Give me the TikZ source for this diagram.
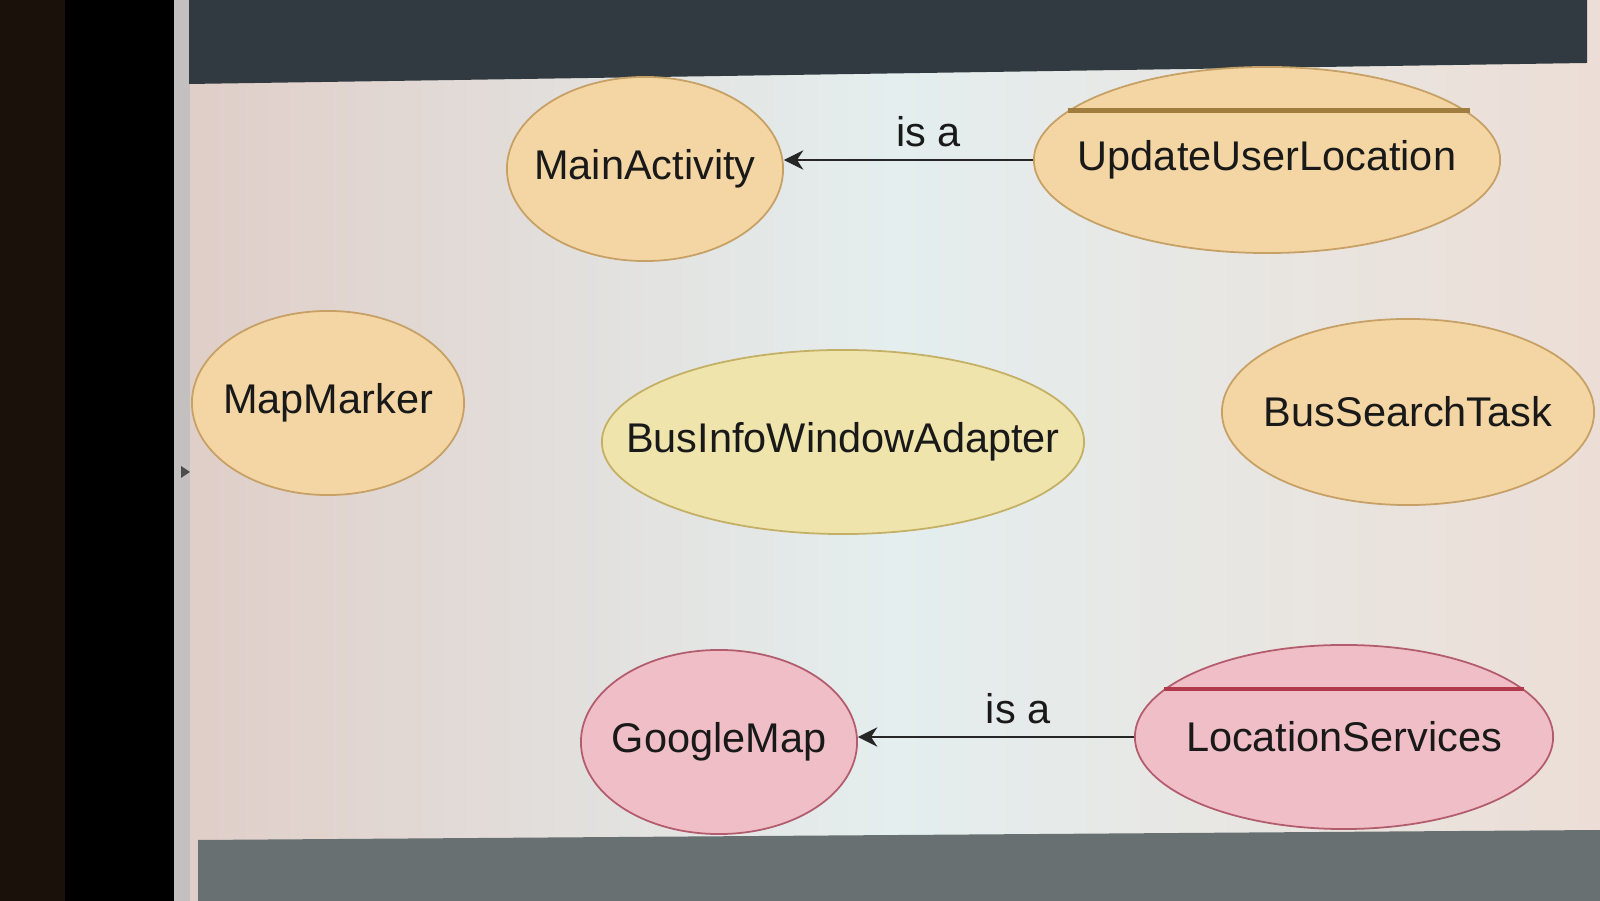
\documentclass[tikz,border=0pt]{standalone}
\usepackage{fontspec}
\setmainfont{Liberation Sans}
\usepackage{xcolor}
\usetikzlibrary{shapes.geometric,arrows.meta}
\definecolor{uclorange}{RGB}{244,214,164}
\definecolor{uclorangeline}{RGB}{198,160,100}
\definecolor{uclorangebar}{RGB}{160,124,62}
\definecolor{uclyellow}{RGB}{238,228,172}
\definecolor{uclyellowline}{RGB}{196,176,100}
\definecolor{uclpink}{RGB}{240,190,198}
\definecolor{uclpinkline}{RGB}{178,92,110}
\definecolor{uclpinkbar}{RGB}{176,58,74}
\definecolor{scrleft}{RGB}{224,206,200}
\definecolor{scrmid}{RGB}{228,238,238}
\definecolor{scrright}{RGB}{236,222,214}
\definecolor{bezeldark}{RGB}{26,18,10}
\definecolor{bezelgray}{RGB}{196,192,192}
\definecolor{titlebar}{RGB}{48,58,64}
\definecolor{footbar}{RGB}{104,112,114}
\newcommand{\clsname}[1]{\makebox[0pt]{#1}}

\begin{document}
\begin{tikzpicture}[x=0.01cm,y=-0.01cm,
  cls/.style={ellipse,line width=0.5pt,text=black!90,
    font=\fontsize{11.8}{14}\selectfont},
  orangecls/.style={cls,fill=uclorange,draw=uclorangeline},
  yellowcls/.style={cls,fill=uclyellow,draw=uclyellowline},
  pinkcls/.style={cls,fill=uclpink,draw=uclpinkline},
  isa/.style={-{Stealth[length=5.5pt,width=5.5pt]},line width=0.5pt,draw=black!85},
  isalabel/.style={font=\fontsize{11.8}{14}\selectfont,text=black!90,above,pos=0.42}]
  \useasboundingbox (0,0) rectangle (1600,901);
  % photo surroundings: bezel, screen, title bar, footer bar
  \fill[bezeldark] (0,0) rectangle (1600,901);
  \fill[black] (65,0) rectangle (176,901);
  \fill[bezelgray] (174,0) rectangle (190,901);
  \fill[left color=scrleft,right color=scrright,middle color=scrmid] (190,0) rectangle (1600,901);
  \fill[titlebar] (189,0) -- (1587,0) -- (1587,63) -- (189,84) -- cycle;
  \fill[footbar] (198,840) -- (1600,830) -- (1600,901) -- (198,901) -- cycle;
  \fill[black!70] (181,466) -- (190,472) -- (181,478) -- cycle;

  % classes
  \node[orangecls,minimum width=2.76cm,minimum height=1.84cm] (main) at (645,169) {\clsname{MainActivity}};
  \node[orangecls,minimum width=4.66cm,minimum height=1.86cm] (upd) at (1267,160) {\clsname{UpdateUserLocation}};
  \node[orangecls,minimum width=2.72cm,minimum height=1.84cm] (marker) at (328,403) {\clsname{MapMarker}};
  \node[yellowcls,minimum width=4.82cm,minimum height=1.84cm] (adapter) at (843,442) {\clsname{BusInfoWindowAdapter}};
  \node[orangecls,minimum width=3.72cm,minimum height=1.86cm] (search) at (1408,412) {\clsname{BusSearchTask}};
  \node[pinkcls,minimum width=2.76cm,minimum height=1.84cm] (gmap) at (719,742) {\clsname{GoogleMap}};
  \node[pinkcls,minimum width=4.18cm,minimum height=1.84cm] (locsvc) at (1344,737) {\clsname{LocationServices}};

  % bars across the subclasses
  \draw[uclorangebar,line width=1.3pt] (upd.166.5) -- (upd.166.5 -| upd.13.5);
  \draw[uclpinkbar,line width=1.3pt] (locsvc.165) -- (locsvc.165 -| locsvc.15);

  % is-a links
  \draw[isa] (upd.west) -- (main.east |- upd.west) node[isalabel] {is a};
  \draw[isa] (locsvc.west) -- (gmap.east |- locsvc.west) node[isalabel] {is a};
\end{tikzpicture}
\end{document}
